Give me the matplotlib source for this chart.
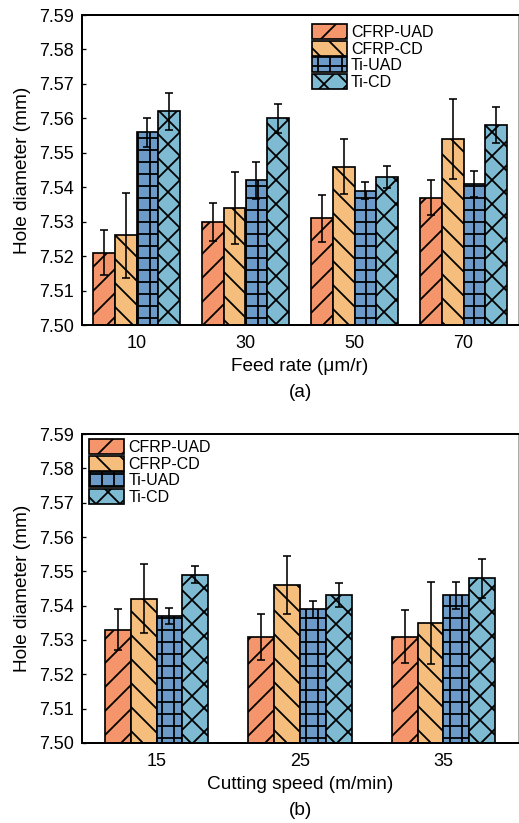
import numpy as np
import matplotlib
matplotlib.use('Agg')
import matplotlib.pyplot as plt

plt.rcParams['font.family'] = ['Liberation Sans', 'DejaVu Sans']

# Data
series = ['CFRP-UAD', 'CFRP-CD', 'Ti-UAD', 'Ti-CD']
colors = ['#F4956B', '#F5BE7C', '#6C9BCA', '#7EBBD3']
hatches = ['/', '\\', '+', 'x']

feed_labels = ['10', '30', '50', '70']
feed_vals = [
    [7.521, 7.530, 7.531, 7.537],
    [7.526, 7.534, 7.546, 7.554],
    [7.556, 7.542, 7.539, 7.541],
    [7.562, 7.560, 7.543, 7.558],
]
feed_err = [
    [0.0065, 0.0055, 0.0068, 0.0050],
    [0.0123, 0.0105, 0.0080, 0.0115],
    [0.0042, 0.0053, 0.0025, 0.0037],
    [0.0055, 0.0042, 0.0033, 0.0052],
]

speed_labels = ['15', '25', '35']
speed_vals = [
    [7.533, 7.531, 7.531],
    [7.542, 7.546, 7.535],
    [7.537, 7.539, 7.543],
    [7.549, 7.543, 7.548],
]
speed_err = [
    [0.0060, 0.0067, 0.0077],
    [0.0100, 0.0085, 0.0120],
    [0.0023, 0.0025, 0.0040],
    [0.0025, 0.0035, 0.0057],
]

W, H, DPI = 519, 823, 72


def pt(px):
    # pixel size -> points at the figure dpi
    return px * 72 / DPI


plt.rcParams['hatch.linewidth'] = pt(1.8)

fig = plt.figure(figsize=(W / DPI, H / DPI), dpi=DPI)
ax_a = fig.add_axes([82 / W, 1 - 325 / H, 436 / W, 310 / H])
ax_b = fig.add_axes([82 / W, 1 - 743 / H, 436 / W, 309 / H])


def draw_panel(ax, labels, vals, errs, width, pad_x, xlabel, tag, legend_anchor, tag_y):
    x = np.arange(len(labels))
    for i, name in enumerate(series):
        pos = x + (i - 1.5) * width
        ax.bar(pos, np.array(vals[i]) - 7.50, width, bottom=7.50,
               color=colors[i], edgecolor='black', linewidth=pt(1.7),
               hatch=hatches[i], label=name, zorder=2)
        ax.errorbar(pos, vals[i], yerr=errs[i], fmt='none', ecolor='black',
                    elinewidth=pt(1.6), capsize=pt(4), capthick=pt(1.6), zorder=3)
    ax.set_xlim(-pad_x, len(labels) - 1 + pad_x)
    ticks = np.arange(7.50, 7.5901, 0.01)
    ax.set_ylim(7.50, 7.59)
    ax.set_yticks(ticks)
    ax.set_yticklabels([f'{v:.2f}' for v in ticks])
    ax.set_xticks(x)
    ax.set_xticklabels(labels)
    ax.tick_params(axis='y', direction='in', length=pt(4), width=pt(1.3),
                   labelsize=pt(18), pad=pt(8))
    ax.tick_params(axis='x', length=0, labelsize=pt(18), pad=pt(10))
    for s in ax.spines.values():
        s.set_linewidth(pt(2))
    ax.spines['right'].set_linewidth(pt(0.8))
    ax.spines['right'].set_color('#999999')
    ax.set_ylabel('Hole diameter (mm)', fontsize=pt(19), labelpad=pt(8))
    ax.set_xlabel(xlabel, fontsize=pt(19), labelpad=pt(6))
    ax.text(0.5, tag_y, tag, transform=ax.transAxes, ha='center',
            va='center', fontsize=pt(19))
    ax.legend(loc='upper left', bbox_to_anchor=legend_anchor, frameon=False,
              fontsize=pt(16), handlelength=2.2, handleheight=1.06,
              labelspacing=0.05, handletextpad=0.25, borderpad=0,
              borderaxespad=0)


draw_panel(ax_a, feed_labels, feed_vals, feed_err, 0.2, 0.5,
           'Feed rate (\u03bcm/r)', '(a)', (0.527, 0.971), -0.219)
draw_panel(ax_b, speed_labels, speed_vals, speed_err, 0.18, 0.52,
           'Cutting speed (m/min)', '(b)', (0.016, 0.984), -0.217)

fig.savefig('out.png', dpi=DPI)
